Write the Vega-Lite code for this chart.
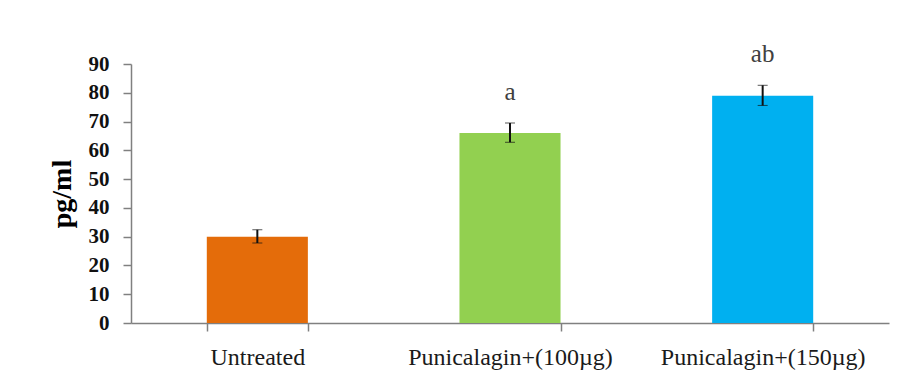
{
  "$schema": "https://vega.github.io/schema/vega-lite/v6.json",
  "width": 758,
  "height": 259,
  "autosize": {"type": "none"},
  "padding": {"left": 131, "top": 64, "right": 22, "bottom": 56},
  "background": "white",
  "config": {"view": {"stroke": null}},
  "data": {
    "values": [
      {"group": "Untreated", "value": 30.0, "lo": 27.8, "hi": 32.4, "sig": ""},
      {"group": "Punicalagin+(100µg)", "value": 66.0, "lo": 62.8, "hi": 69.5, "sig": "a"},
      {"group": "Punicalagin+(150µg)", "value": 79.0, "lo": 75.6, "hi": 82.6, "sig": "ab"}
    ]
  },
  "resolve": {"axis": {"y": "independent"}},
  "encoding": {
    "x": {
      "field": "group",
      "type": "nominal",
      "sort": null,
      "scale": {"paddingInner": 0.6, "paddingOuter": 0.3},
      "axis": {
        "title": null,
        "labelAngle": 0,
        "labelLimit": 0,
        "tickBand": "extent",
        "tickSize": 8,
        "tickColor": "#808080",
        "domainColor": "#808080",
        "domainWidth": 1.5,
        "tickWidth": 1.5,
        "labelFont": "Liberation Serif",
        "labelFontSize": 24,
        "labelColor": "#1a1a1a",
        "labelPadding": 14
      }
    }
  },
  "layer": [
    {
      "mark": {"type": "bar"},
      "encoding": {
        "y": {
          "field": "value",
          "type": "quantitative",
          "scale": {"domain": [0, 90], "nice": false},
          "axis": {
            "title": "pg/ml",
            "values": [0, 10, 20, 30, 40, 50, 60, 70, 80, 90],
            "labelOverlap": false,
            "grid": false,
            "tickSize": 8,
            "tickColor": "#808080",
            "domainColor": "#808080",
            "domainWidth": 1.5,
            "tickWidth": 1.5,
            "labelFont": "Liberation Serif",
            "labelFontSize": 21,
            "labelFontWeight": "bold",
            "labelColor": "#111111",
            "labelPadding": 14,
            "titleFont": "Liberation Serif",
            "titleFontSize": 28,
            "titleFontWeight": "bold",
            "titleColor": "#000000",
            "titlePadding": 12
          }
        },
        "color": {
          "field": "group",
          "type": "nominal",
          "sort": null,
          "scale": {"range": ["#E46C0A", "#92D050", "#00B0F0"]},
          "legend": null
        }
      }
    },
    {
      "mark": {"type": "errorbar", "ticks": {"size": 10, "color": "#111111", "strokeWidth": 2}, "rule": {"color": "#111111", "strokeWidth": 2}},
      "encoding": {
        "y": {"field": "lo", "type": "quantitative", "axis": null},
        "y2": {"field": "hi"}
      }
    },
    {
      "mark": {"type": "text", "font": "Liberation Serif", "fontSize": 25, "color": "#404040", "baseline": "middle", "dy": -31},
      "encoding": {
        "y": {"field": "hi", "type": "quantitative", "axis": null},
        "text": {"field": "sig"}
      }
    }
  ]
}
